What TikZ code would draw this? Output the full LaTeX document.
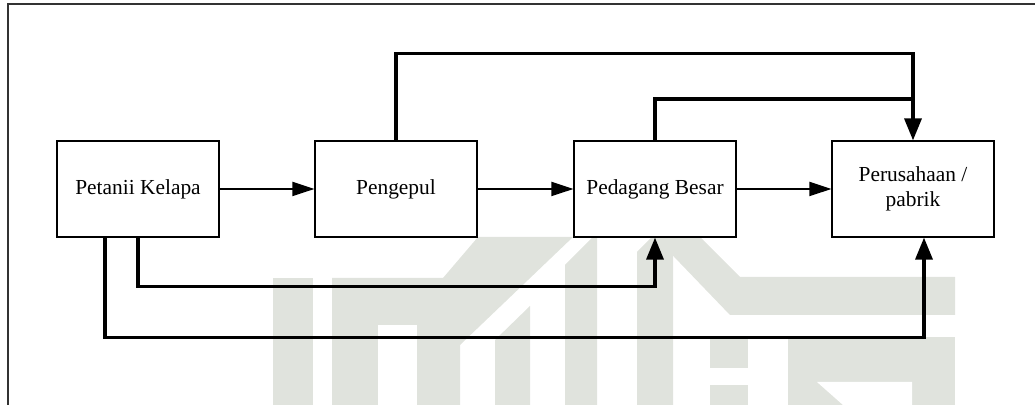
\documentclass[tikz,border=0pt]{standalone}
\usepackage{fontspec}
\setmainfont{Liberation Serif}
\usetikzlibrary{arrows.meta}

\definecolor{wmark}{RGB}{224,227,221}

\tikzset{
    stage/.style={draw, fill=white, line width=0.6pt, minimum width=81pt,
        minimum height=48pt, inner sep=2pt, align=center,
        font=\fontsize{10.7}{12.5}\selectfont},
    flow/.style={-{Triangle[length=11pt,width=7pt]}, line width=1pt},
    route/.style={-{Triangle[length=11pt,width=8.5pt]}, line width=1.7pt},
    logo/.style={fill=wmark}
}

\begin{document}
\begin{tikzpicture}[x=0.5pt,y=-0.5pt]
    \useasboundingbox (0,0) rectangle (1035,405);

    % watermark in the background
    \fill[logo] (273,278) rectangle (313,405);
    \fill[logo] (332,405) -- (332,278) -- (443,278) -- (478,237) -- (573,237)
                -- (460,345) -- (460,405) -- cycle;
    \fill[white] (378,325) rectangle (417,405);
    \fill[logo] (495,405) -- (495,340) -- (530,306) -- (530,405) -- cycle;
    \fill[logo] (565,405) -- (565,265) -- (593,237) -- (597,237) -- (597,405) -- cycle;
    \fill[logo] (637,405) -- (637,252) -- (652,237) -- (673,237) -- (673,405) -- cycle;
    \fill[logo] (655,237) -- (700,237) -- (740,277) -- (955,277) -- (955,315)
                -- (730,315) -- cycle;
    \fill[logo] (710,338) rectangle (748,368);
    \fill[logo] (710,385) rectangle (748,405);
    \fill[logo] (788,337) rectangle (955,405);
    \fill[white] (817,382) -- (912,382) -- (912,405) -- (843,405) -- cycle;

    % frame
    \draw[line width=1.1pt, black!80] (8,405) -- (8,4) -- (1035,4);

    % stages
    \node[stage] (petani) at (138,189) {Petanii Kelapa};
    \node[stage] (pengepul) at (396,189) {Pengepul};
    \node[stage] (pedagang) at (655,189) {Pedagang Besar};
    \node[stage] (pabrik) at (913,189) {Perusahaan /\\pabrik};

    % main chain
    \draw[flow] (petani) -- (pengepul);
    \draw[flow] (pengepul) -- (pedagang);
    \draw[flow] (pedagang) -- (pabrik);

    % routes over the top
    \coordinate (join) at (913,99);
    \draw[route] (pengepul.north) -- ++(0,-87) -| (pabrik.north);
    \draw[line width=1.7pt] (pedagang.north) |- (join);

    % routes underneath
    \draw[route] (petani.south) -- ++(0,49) -| (pedagang.south);
    \draw[route] ([xshift=-16.5pt]petani.south) -- ++(0,100)
                 -| ([xshift=5.5pt]pabrik.south);
\end{tikzpicture}
\end{document}
